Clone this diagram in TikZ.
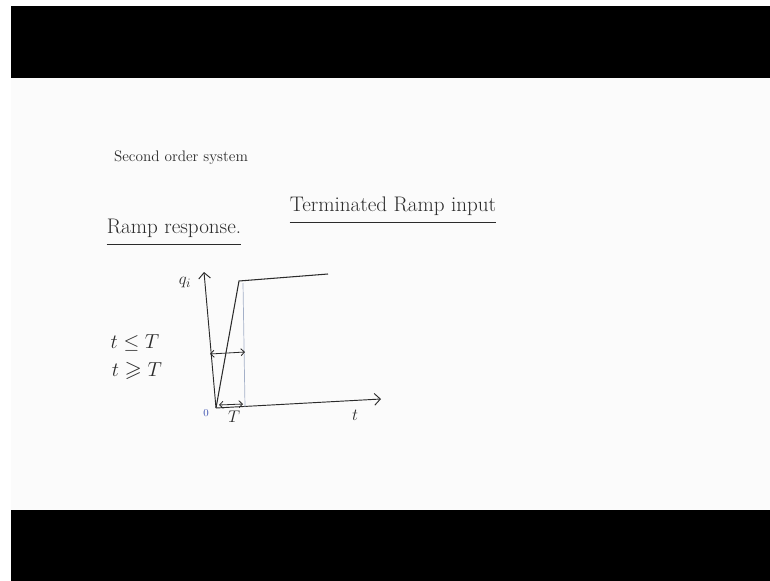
\documentclass[tikz,border=0pt]{standalone}
\usepackage{amsmath,amssymb}
\usetikzlibrary{arrows.meta}
\definecolor{ink}{HTML}{2B2B2B}
\definecolor{board}{HTML}{FBFBFB}
\definecolor{guide}{HTML}{A4B0C8}
\definecolor{zeroblue}{HTML}{3A4FB0}

\begin{document}
\begin{tikzpicture}[x=0.03cm, y=-0.03cm,
    label/.style={inner sep=0pt, text=ink},
    axis/.style={-{Straight Barb[length=5pt]}, line width=0.8pt, color=ink},
    twoway/.style={{Straight Barb[length=3pt]}-{Straight Barb[length=3pt]}, line width=0.7pt, color=ink},
    curve/.style={line width=0.9pt, color=ink},
    underline/.style={line width=0.7pt, color=ink},
]
\useasboundingbox (0,0) rectangle (770,581);
\fill[board] (11,78) rectangle (770,510);
\fill[black] (11,6) rectangle (770,78);
\fill[black] (11,510) rectangle (770,581);

% headings
\node[label, font=\fontsize{13}{15}\selectfont] (title) at (181,158) {Second order system};
\node[label, font=\fontsize{18}{21}\selectfont] (ramp) at (174,228) {Ramp response.};
\node[label, font=\fontsize{18}{21}\selectfont] (term) at (393,206) {Terminated Ramp input};
\draw[underline] ([yshift=-6pt]ramp.south west) -- ([yshift=-6pt]ramp.south east);
\draw[underline] ([yshift=-6pt]term.south west) -- ([yshift=-6pt]term.south east);

% axes and input
\coordinate (O) at (216,408);
\coordinate (ytip) at (204,272);
\coordinate (xtip) at (381,399);
\coordinate (peak) at (239,281);
\coordinate (flat) at (328,274);
\coordinate (Ttop) at (243,283);
\coordinate (Tfoot) at (245,407);
\draw[axis] (O) -- (ytip);
\draw[axis] (O) -- (xtip);
\draw[curve] (O) -- (peak) -- (flat);
\draw[guide, line width=0.6pt] (Ttop) -- (Tfoot);

\coordinate (mleft) at (210,354);
\coordinate (mright) at (245,352);
\coordinate (sleft) at (219,405);
\coordinate (sright) at (243,404);
\draw[twoway] (mleft) -- (mright);
\draw[twoway] (sleft) -- (sright);

% labels
\node[label, font=\fontsize{15}{18}\selectfont] (qi) at (185,283) {$q_i$};
\node[label, font=\fontsize{15}{18}\selectfont] (tlab) at (355,415) {$t$};
\node[label, font=\fontsize{14}{17}\selectfont] (Tlab) at (234,417) {$T$};
\node[label, text=zeroblue, font=\small] (zero) at (206,413) {0};
\node[label, font=\fontsize{19}{22}\selectfont] (tle) at (135,343) {$t\leq T$};
\node[label, font=\fontsize{19}{22}\selectfont] (tge) at (137,371) {$t\geqslant T$};
\end{tikzpicture}
\end{document}
